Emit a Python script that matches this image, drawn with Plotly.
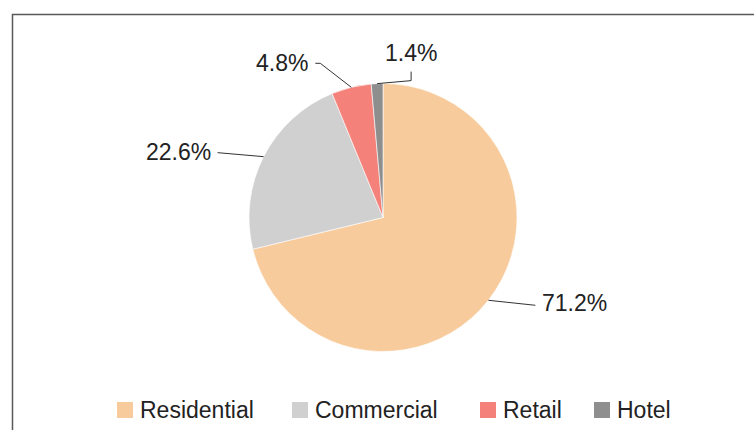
import math
import plotly.graph_objects as go

# ---- data ----
categories = ["Residential", "Commercial", "Retail", "Hotel"]
shares = [71.2, 22.6, 4.8, 1.4]
label_texts = ["71.2%", "22.6%", "4.8%", "1.4%"]

# ---- style ----
colors = ["#F8CB9C", "#D0D0D0", "#F4827A", "#8E8E8F"]
W, H = 754, 430
CX, CY, R = 383.0, 217.5, 134.0       # pie centre / radius in px
FONT = "Liberation Sans, Arial, sans-serif"
TXT = "#222222"
# per-slice label layout: offsets (px) from slice mid-edge point
label_style = [
    dict(text=(52, 3), xanchor="left", bends=[(47, 5)]),
    dict(text=(-51, -5), xanchor="right", bends=[(-46, -4)]),
    dict(text=(-41, -24), xanchor="right", bends=[(-31, -24), (-36, -24)]),
    dict(text=(34, -31), xanchor="center", bends=[(34, -3), (34, -12)]),
]
# legend layout (px): swatch left edges, swatch size, text gap, row centre
legend_x = [117, 292, 480, 594]
SW = 16
LEG_GAP = 6
LEG_Y = 410


def px2paper(x, y):
    return x / W, 1 - y / H


fig = go.Figure()
fig.add_trace(go.Pie(
    labels=categories,
    values=shares,
    sort=False,
    direction="clockwise",
    rotation=0,
    textinfo="none",
    hoverinfo="label+percent",
    marker=dict(colors=colors, line=dict(color="white", width=0.6)),
    domain=dict(x=[(CX - R) / W, (CX + R) / W],
                y=[1 - (CY + R) / H, 1 - (CY - R) / H]),
    showlegend=False,
))

shapes = []
annotations = []
total = sum(shares)
cum = 0.0
for val, txt, st in zip(shares, label_texts, label_style):
    mid = (cum + val / 2) / total * 2 * math.pi
    cum += val
    ex = CX + R * math.sin(mid)
    ey = CY - R * math.cos(mid)
    pts = [(ex, ey)] + [(ex + dx, ey + dy) for dx, dy in st["bends"]]
    path = "M " + " L ".join("%.5f,%.5f" % px2paper(x, y) for x, y in pts)
    shapes.append(dict(type="path", xref="paper", yref="paper", path=path,
                       line=dict(color="#333333", width=1)))
    tx, ty = px2paper(ex + st["text"][0], ey + st["text"][1])
    annotations.append(dict(x=tx, y=ty, xref="paper", yref="paper", text=txt,
                            showarrow=False, xanchor=st["xanchor"], yanchor="middle",
                            font=dict(family=FONT, size=23, color=TXT)))

# legend (drawn as swatches + text)
for name, col, lx in zip(categories, colors, legend_x):
    x0, y0 = px2paper(lx, LEG_Y + SW / 2)
    x1, y1 = px2paper(lx + SW, LEG_Y - SW / 2)
    shapes.append(dict(type="rect", xref="paper", yref="paper",
                       x0=x0, x1=x1, y0=y0, y1=y1,
                       fillcolor=col, line=dict(width=0)))
    tx, ty = px2paper(lx + SW + LEG_GAP, LEG_Y)
    annotations.append(dict(x=tx, y=ty, xref="paper", yref="paper", text=name,
                            showarrow=False, xanchor="left", yanchor="middle",
                            borderpad=0,
                            font=dict(family=FONT, size=23, color=TXT)))

# chart frame
shapes.append(dict(type="rect", xref="paper", yref="paper",
                   x0=12.5 / W, x1=1.05, y0=-0.05, y1=1 - 14.5 / H,
                   line=dict(color="#595959", width=1.5), layer="below"))

fig.update_layout(
    width=W, height=H,
    margin=dict(l=0, r=0, t=0, b=0),
    paper_bgcolor="white",
    plot_bgcolor="white",
    font=dict(family=FONT, size=23, color=TXT),
    shapes=shapes,
    annotations=annotations,
    showlegend=False,
)

fig.write_html("out.html")
